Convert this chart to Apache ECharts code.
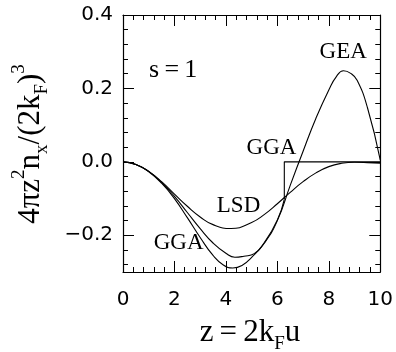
<!DOCTYPE html>
<html>
<head>
<meta charset="utf-8">
<script src="https://cdn.jsdelivr.net/npm/echarts@6/dist/echarts.min.js"></script>
<style>
    html, body { margin: 0; padding: 0; background: #fff; }
    #main { width: 396px; height: 352px; }
</style>
</head>
<body>
<div id="main"></div>
<script>
// LSD curve
var lsdZ = [0, 0.5, 1, 1.5, 2, 2.5, 3, 3.5, 4.2, 5, 5.5, 6, 6.5, 7, 7.5, 8, 8.5, 9, 9.5, 10];
var lsdY = [0, -0.007, -0.026, -0.054, -0.088, -0.121, -0.150, -0.171, -0.1815, -0.165, -0.143, -0.114, -0.083, -0.054, -0.030, -0.013, -0.004, -0.001, -0.002, -0.004];
// GEA curve
var geaZ = [0, 0.5, 1, 1.5, 2, 2.5, 3, 3.5, 3.9, 4.27, 4.65, 5, 5.5, 6, 6.5, 7, 7.5, 8, 8.3, 8.57, 8.85, 9.1, 9.5, 10];
var geaY = [0, -0.007, -0.027, -0.058, -0.100, -0.152, -0.206, -0.255, -0.281, -0.289, -0.281, -0.260, -0.221, -0.160, -0.064, 0.029, 0.119, 0.196, 0.233, 0.248, 0.241, 0.222, 0.148, 0.005];
// GGA curve, cut off at z = 6.27, then zero
var ggaZ = [0, 0.5, 1, 1.5, 2, 2.5, 3, 3.5, 4, 4.35, 4.7, 5.1, 5.5, 6, 6.27];
var ggaY = [0, -0.007, -0.026, -0.056, -0.094, -0.138, -0.182, -0.221, -0.249, -0.260, -0.257, -0.250, -0.219, -0.158, -0.102];
var ggaTailZ = [6.27, 6.27, 10];
var ggaTailY = [-0.102, 0, 0];

var yMajor = [-0.2, 0, 0.2, 0.4];
var yMinor = [-0.28, -0.24, -0.16, -0.12, -0.08, -0.04, 0.04, 0.08, 0.12, 0.16, 0.24, 0.28, 0.32, 0.36];

// curve labels [text, z, y, font size]
var curveLabels = [
    ['GEA', 8.56, 0.299, 23],
    ['GGA', 5.77, 0.037, 23],
    ['LSD', 4.49, -0.121, 23],
    ['GGA', 2.16, -0.222, 23],
    ['s\u2009=\u20091', 1.95, 0.25, 26]
];

function zip(xs, ys) {
    return xs.map(function (x, i) { return [x, ys[i]]; });
}

var tickFont = 'DejaVu Sans';
var serif = 'Liberation Serif';
var black = '#000';

function xAxisOf(pos, showLabel) {
    return {
        type: 'value', min: 0, max: 10, interval: 2, position: pos,
        axisLine: { onZero: false, lineStyle: { color: black, width: 1.2 } },
        axisTick: { inside: true, length: 11, lineStyle: { color: black, width: 1 } },
        minorTick: { show: true, splitNumber: 5, length: 5, lineStyle: { color: black, width: 1 } },
        splitLine: { show: false },
        minorSplitLine: { show: false },
        axisLabel: { show: showLabel, margin: 18, fontSize: 20, color: black, fontFamily: tickFont }
    };
}

function yAxisOf(pos, values, len, showLabel, showLine) {
    return {
        type: 'value', min: -0.3, max: 0.4, position: pos,
        axisLine: { show: showLine, onZero: false, lineStyle: { color: black, width: 1.2 } },
        axisTick: { inside: true, length: len, customValues: values, lineStyle: { color: black, width: 1 } },
        splitLine: { show: false },
        axisLabel: {
            show: showLabel, customValues: values, margin: 10, fontSize: 20, color: black, fontFamily: tickFont,
            formatter: function (v) {
                var s = Math.abs(v).toFixed(1);
                return v < -1e-9 ? '\u2212' + s : s;
            }
        }
    };
}

var lineStyle = { color: black, width: 1.1 };

var myChart = echarts.init(document.getElementById('main'));
var option = {
    animation: false,
    backgroundColor: '#fff',
    grid: { left: 123, right: 15, top: 15, bottom: 80 },
    xAxis: [xAxisOf('bottom', true), xAxisOf('top', false)],
    yAxis: [
        yAxisOf('left', yMajor, 11, true, true),
        yAxisOf('left', yMinor, 5, false, false),
        yAxisOf('right', yMajor, 11, false, true),
        yAxisOf('right', yMinor, 5, false, false)
    ],
    series: [
        { name: 'LSD', type: 'line', smooth: true, showSymbol: false, data: zip(lsdZ, lsdY), lineStyle: lineStyle },
        { name: 'GEA', type: 'line', smooth: true, showSymbol: false, data: zip(geaZ, geaY), lineStyle: lineStyle },
        { name: 'GGA', type: 'line', smooth: true, showSymbol: false, data: zip(ggaZ, ggaY), lineStyle: lineStyle },
        { name: 'GGA cut', type: 'line', smooth: false, showSymbol: false, data: zip(ggaTailZ, ggaTailY), lineStyle: lineStyle }
    ]
};
myChart.setOption(option);

// texts: curve labels in data coords, axis titles
var graphics = curveLabels.map(function (l) {
    var p = myChart.convertToPixel({ xAxisIndex: 0, yAxisIndex: 0 }, [l[1], l[2]]);
    return {
        type: 'text', x: p[0], y: p[1],
        style: { text: l[0], fill: black, font: l[3] + 'px "' + serif + '"', align: 'center', verticalAlign: 'middle' }
    };
});

var richTitle = {
    sub: { fontSize: 19, fontFamily: serif, lineHeight: 19, verticalAlign: 'bottom' },
    sup: { fontSize: 19, fontFamily: serif, lineHeight: 19, verticalAlign: 'top' }
};

graphics.push({
    type: 'text', x: 250, y: 333,
    style: {
        text: 'z\u2009=\u20092k{sub|F}u', fill: black, fontFamily: serif, fontSize: 31, lineHeight: 42,
        align: 'center', verticalAlign: 'middle', rich: richTitle
    }
});
graphics.push({
    type: 'text', x: 31, y: 144, rotation: Math.PI / 2,
    style: {
        text: '4\u03c0z{sup|2}n{sub|x}/(2k{sub|F}){sup|3}', fill: black, fontFamily: serif, fontSize: 31, lineHeight: 42,
        align: 'center', verticalAlign: 'middle', rich: richTitle
    }
});

myChart.setOption({ graphic: graphics });
</script>
</body>
</html>
